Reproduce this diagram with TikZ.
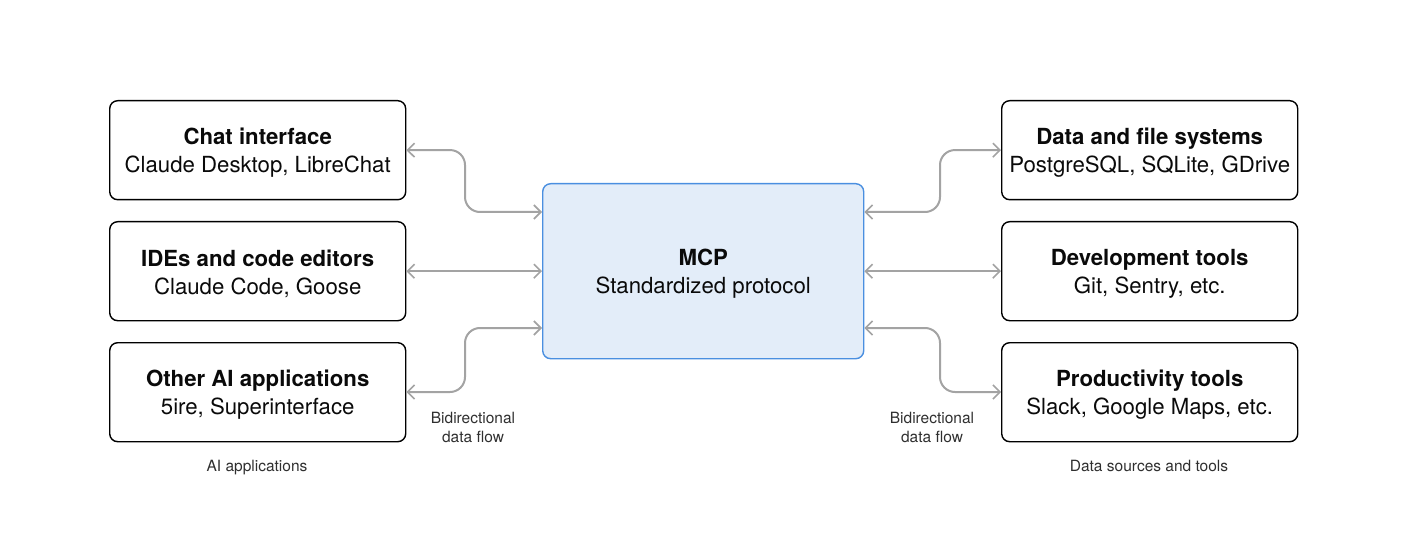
\documentclass[tikz,border=0pt]{standalone}
\usepackage{fontspec}
\setmainfont{TeX Gyre Heros}
\usetikzlibrary{arrows.meta}
\definecolor{mcpfill}{HTML}{E3EDF9}
\definecolor{mcpline}{HTML}{4A8FE0}
\definecolor{arrgray}{HTML}{A3A3A3}
\definecolor{txt}{HTML}{0A0A0A}
\newcommand{\tstrut}{\rule{0pt}{22pt}}
\tikzset{
  box/.style={draw=black, line width=1.4pt, rounded corners=8pt, minimum width=296pt, minimum height=99pt, anchor=north west, align=center, font=\fontsize{22.2}{28}\selectfont, text=txt, inner sep=0pt},
  mcpbox/.style={draw=mcpline, fill=mcpfill, line width=1.4pt, rounded corners=8pt, minimum width=321pt, minimum height=175pt, anchor=north west, align=center, font=\fontsize{22.2}{28}\selectfont, text=txt, inner sep=0pt},
  flow/.style={draw=arrgray, line width=2pt, rounded corners=15pt, {Straight Barb[length=7pt,width=14pt,line width=1.6pt]}-{Straight Barb[length=7pt,width=14pt,line width=1.6pt]}},
  small/.style={font=\fontsize{15.5}{19}\selectfont, text=txt!85, align=center}
}
\begin{document}
\begin{tikzpicture}[x=1pt,y=-1pt]
\useasboundingbox (0,0) rectangle (1410,537);
\node[box] (chat) at (109,100) {\tstrut\textbf{Chat interface}\\Claude Desktop, LibreChat};
\node[box] (ide) at (109,221) {\tstrut\textbf{IDEs and code editors}\\Claude Code, Goose};
\node[box] (other) at (109,342) {\tstrut\textbf{Other AI applications}\\5ire, Superinterface};
\node[box] (data) at (1001,100) {\tstrut\textbf{Data and file systems}\\PostgreSQL, SQLite, GDrive};
\node[box] (dev) at (1001,221) {\tstrut\textbf{Development tools}\\Git, Sentry, etc.};
\node[box] (prod) at (1001,342) {\tstrut\textbf{Productivity tools}\\Slack, Google Maps, etc.};
\node[mcpbox] (mcp) at (542,183) {\tstrut\textbf{MCP}\\Standardized protocol};
% left connectors
\draw[flow] (chat.east) -- (465,150) -- (465,212) -- (mcp.west |- 0,212);
\draw[flow] (ide.east) -- (mcp.west |- ide.east);
\draw[flow] (other.east |- 0,392) -- (465,392) -- (465,328) -- (mcp.west |- 0,328);
% right connectors
\draw[flow] (data.west) -- (940,150) -- (940,212) -- (mcp.east |- 0,212);
\draw[flow] (dev.west) -- (mcp.east |- dev.west);
\draw[flow] (prod.west |- 0,392) -- (940,392) -- (940,328) -- (mcp.east |- 0,328);
% labels
\node[small] (lblL) at (473,427) {Bidirectional\\data flow};
\node[small] (lblR) at (932,427) {Bidirectional\\data flow};
\node[small, anchor=base] (capL) at (257,471.5) {AI applications};
\node[small, anchor=base] (capR) at (1149,471.5) {Data sources and tools};
\end{tikzpicture}
\end{document}
